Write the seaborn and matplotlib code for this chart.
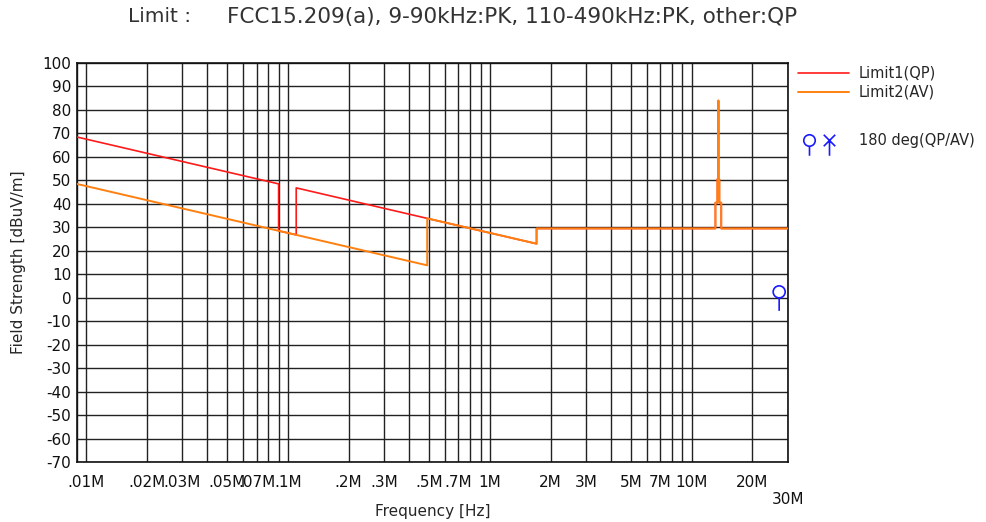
import numpy as np
import pandas as pd
import matplotlib
matplotlib.use("Agg")
import matplotlib.pyplot as plt
from matplotlib.path import Path
from matplotlib.lines import Line2D
import seaborn as sns

# ---- data (frequency in MHz, level in dBuV/m) ----
qp_freq = [0.009, 0.09, 0.09, 0.11, 0.11, 0.49, 1.705, 1.705, 13.11, 13.11, 13.41, 13.41,
           13.553, 13.553, 13.567, 13.567, 13.71, 13.71, 14.01, 14.01, 30.0]
qp_level = [68.5, 48.5, 28.5, 26.8, 46.8, 33.8, 23.0, 29.5, 29.5, 40.5, 40.5, 50.5,
            50.5, 84.0, 84.0, 50.5, 50.5, 40.5, 40.5, 29.5, 29.5]
av_freq = [0.009, 0.49, 0.49, 1.705, 1.705, 13.11, 13.11, 13.41, 13.41,
           13.553, 13.553, 13.567, 13.567, 13.71, 13.71, 14.01, 14.01, 30.0]
av_level = [48.5, 13.8, 33.8, 23.0, 29.5, 29.5, 40.5, 40.5, 50.5,
            50.5, 84.0, 84.0, 50.5, 50.5, 40.5, 40.5, 29.5, 29.5]
meas_freq = [27.12]
meas_level = [2.5]

xtick_mhz = [0.01, 0.02, 0.03, 0.05, 0.07, 0.1, 0.2, 0.3, 0.5, 0.7, 1, 2, 3, 5, 7, 10, 20, 30]
xtick_labels = [".01M", ".02M", ".03M", ".05M", ".07M", ".1M", ".2M", ".3M", ".5M", ".7M",
                "1M", "2M", "3M", "5M", "7M", "10M", "20M", "\n30M"]
ytick_vals = list(range(-70, 101, 10))

title_head = "Limit :"
title_text = "FCC15.209(a), 9-90kHz:PK, 110-490kHz:PK, other:QP"

sns.set_style("white")
plt.rcParams['font.family'] = ['DejaVu Sans']

fig = plt.figure(figsize=(9.87, 5.22), dpi=100)
ax = fig.add_axes([0.0777, 0.1149, 0.7207, 0.7644])

RED = "#ff1a1a"
ORANGE = "#ff8010"
BLUE = "#1a1aff"

df_qp = pd.DataFrame({"f": np.array(qp_freq) * 1e6, "v": qp_level})
df_av = pd.DataFrame({"f": np.array(av_freq) * 1e6, "v": av_level})
df_m = pd.DataFrame({"f": np.array(meas_freq) * 1e6, "v": meas_level})

sns.lineplot(data=df_qp, x="f", y="v", sort=False, estimator=None, color=RED, lw=1.2, ax=ax, zorder=4)
sns.lineplot(data=df_av, x="f", y="v", sort=False, estimator=None, color=ORANGE, lw=1.4, ax=ax, zorder=5)

# lollipop marker: circle with stem downward
circ = Path.circle(center=(0, 0), radius=6)
stem = Path([[0, -6], [0, -19]], [Path.MOVETO, Path.LINETO])
lolli = Path.make_compound_path(circ, stem)
sns.scatterplot(data=df_m, x="f", y="v", marker=lolli, s=750, facecolors="none",
                edgecolors=BLUE, linewidths=1.2, color=BLUE, ax=ax, zorder=6, legend=False)

ax.set_xscale("log")
ax.set_xlim(9e3, 30e6)
ax.set_ylim(-70, 100)

# grid at every 1..9 x decade
minor = []
for dec in [1e3, 1e4, 1e5, 1e6, 1e7]:
    for k in range(1, 10):
        f = k * dec
        if 9e3 <= f <= 30e6:
            minor.append(f)
major = [v * 1e6 for v in xtick_mhz]
ax.set_xticks(major)
ax.set_xticklabels(xtick_labels)
ax.set_xticks([f for f in minor if all(abs(f - m) > 1 for m in major)], minor=True)
ax.set_xticklabels([], minor=True)
ax.set_yticks(ytick_vals)
ax.set_yticklabels([str(v) for v in ytick_vals])
ax.grid(True, which="both", axis="x", color="#222222", lw=1.0)
ax.grid(True, which="major", axis="y", color="#222222", lw=1.0)
ax.tick_params(which="both", length=0, labelsize=11, colors="#111111")
ax.tick_params(axis="x", pad=9)
ax.tick_params(axis="y", pad=4)
for s in ax.spines.values():
    s.set_color("#111111")
    s.set_linewidth(1.2)

ax.set_xlabel("Frequency [Hz]", fontsize=11, labelpad=-2)
ax.set_ylabel("Field Strength [dBuV/m]", fontsize=11, labelpad=12)

fig.text(128 / 987, 1 - 17 / 522, title_head, fontsize=14.5, ha="left", va="center", color="#333333")
fig.text(227 / 987, 1 - 17 / 522, title_text, fontsize=15.5, ha="left", va="center", color="#333333")

# legend (drawn in figure coordinates)
def fy(py):
    return 1 - py / 522

def fx(px):
    return px / 987

fig.add_artist(Line2D([fx(798), fx(849)], [fy(73), fy(73)], color=RED, lw=1.2))
fig.add_artist(Line2D([fx(798), fx(849)], [fy(92), fy(92)], color=ORANGE, lw=1.4))
fig.text(fx(859), fy(73), "Limit1(QP)", fontsize=10.5, va="center", ha="left")
fig.text(fx(859), fy(92), "Limit2(AV)", fontsize=10.5, va="center", ha="left")

leg_circ = Path.make_compound_path(Path.circle(center=(0, 0), radius=6),
                                   Path([[0, -6], [0, -16]], [Path.MOVETO, Path.LINETO]))
leg_x = Path([[-6, 6], [6, -6], [-6, -6], [6, 6], [0, 0], [0, -16]],
             [Path.MOVETO, Path.LINETO, Path.MOVETO, Path.LINETO, Path.MOVETO, Path.LINETO])
fig.add_artist(Line2D([fx(809)], [fy(140)], marker=leg_circ, markersize=22, markerfacecolor="none",
                      markeredgecolor=BLUE, markeredgewidth=1.2, linestyle="none"))
fig.add_artist(Line2D([fx(829)], [fy(140)], marker=leg_x, markersize=22, markerfacecolor="none",
                      markeredgecolor=BLUE, markeredgewidth=1.2, linestyle="none"))
fig.text(fx(859), fy(140), "180 deg(QP/AV)", fontsize=10.5, va="center", ha="left")

fig.savefig("out.png", dpi=100)
